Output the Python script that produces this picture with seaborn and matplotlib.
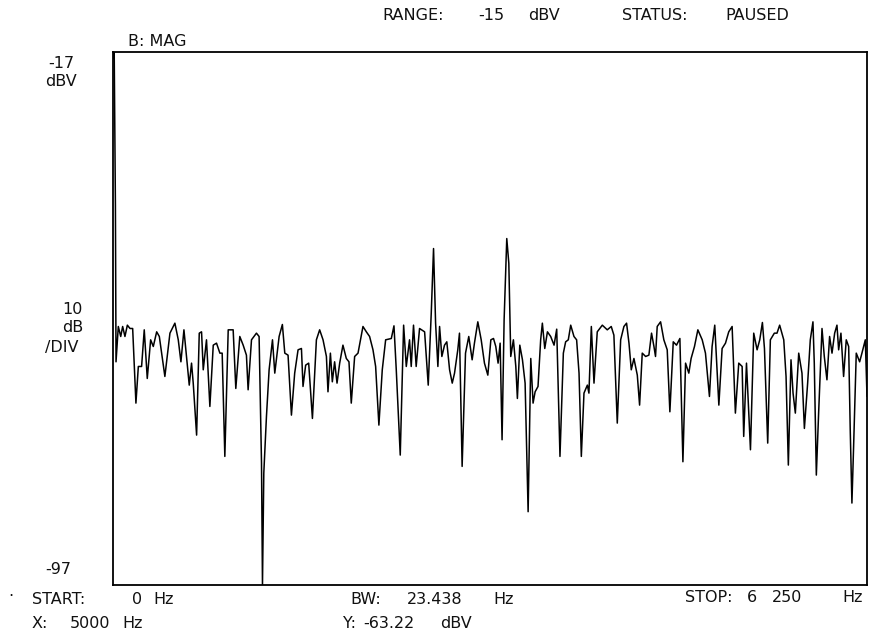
import matplotlib
matplotlib.use("Agg")
import matplotlib.pyplot as plt
import seaborn as sns
import pandas as pd

# Spectrum trace (frequency in Hz, level in dBV)
freq_hz = [0, 10, 20, 25, 44, 64, 80, 99, 119, 141, 163, 190, 210, 237, 259, 284, 312, 334, 362, 384,
           430, 472, 513, 541, 563, 588, 632, 651, 665, 693, 715, 734, 748, 775, 803, 831, 858, 886, 905, 927,
           955, 996, 1018, 1051, 1079, 1106, 1120, 1148, 1189, 1211, 1231, 1239, 1250, 1272, 1294, 1322, 1341, 1377, 1404, 1424,
           1451, 1479, 1506, 1534, 1562, 1575, 1597, 1622, 1653, 1686, 1713, 1741, 1769, 1782, 1802, 1818, 1837, 1857, 1879, 1906,
           1934, 1956, 1975, 2003, 2031, 2072, 2100, 2127, 2155, 2177, 2204, 2232, 2260, 2307, 2329, 2348, 2381, 2409, 2431, 2458,
           2472, 2491, 2513, 2541, 2583, 2613, 2638, 2657, 2674, 2693, 2707, 2726, 2748, 2767, 2790, 2812, 2831, 2858, 2872, 2894,
           2922, 2949, 2977, 2996, 3024, 3052, 3079, 3107, 3132, 3154, 3173, 3192, 3209, 3225, 3242, 3264, 3281, 3297, 3319, 3339,
           3352, 3372, 3394, 3416, 3441, 3463, 3482, 3499, 3523, 3545, 3559, 3579, 3601, 3628, 3656, 3678, 3705, 3733, 3752, 3774,
           3794, 3821, 3843, 3863, 3882, 3904, 3932, 3945, 3965, 3987, 4014, 4056, 4097, 4130, 4152, 4180, 4208, 4235, 4257, 4277,
           4296, 4318, 4346, 4365, 4387, 4415, 4442, 4464, 4484, 4497, 4511, 4539, 4566, 4594, 4616, 4644, 4671, 4699, 4724, 4746,
           4773, 4792, 4820, 4848, 4884, 4911, 4944, 4966, 4988, 5022, 5049, 5077, 5104, 5132, 5159, 5187, 5215, 5228, 5251, 5284,
           5311, 5339, 5361, 5383, 5400, 5427, 5449, 5482, 5504, 5526, 5560, 5579, 5598, 5620, 5637, 5656, 5684, 5711, 5731, 5758,
           5780, 5802, 5813, 5830, 5849, 5877, 5896, 5918, 5940, 5960, 5982, 6001, 6015, 6034, 6056, 6078, 6098, 6111, 6125, 6139,
           6161, 6189, 6208, 6236, 6250]
level_dbv = [-18, -17, -40, -63.5, -58.2, -59.7, -58.2, -59.7, -58.0, -58.5, -58.5, -69.7, -64.2, -64.2, -58.7, -66.0, -60.2, -61.2, -59.0, -59.7,
             -65.7, -59.2, -57.7, -60.2, -63.5, -58.7, -67.0, -63.7, -66.7, -74.5, -59.2, -59.0, -64.7, -60.2, -70.2, -61.0, -60.7, -62.2, -62.2, -77.7,
             -58.7, -58.7, -67.5, -59.7, -61.0, -62.5, -67.7, -60.2, -59.2, -59.7, -78.7, -97.0, -80.2, -71.7, -64.7, -60.2, -65.2, -59.7, -57.9, -62.2,
             -62.5, -71.5, -65.2, -61.7, -61.5, -67.2, -64.0, -63.7, -72.0, -60.2, -58.7, -60.2, -62.7, -68.0, -62.2, -66.5, -63.5, -66.7, -63.7, -61.0,
             -63.0, -63.5, -69.7, -62.7, -62.2, -58.2, -59.0, -59.7, -61.7, -64.2, -73.0, -64.7, -60.2, -60.0, -58.1, -64.7, -77.5, -58.0, -64.2, -60.2,
             -64.2, -58.0, -64.2, -58.5, -59.0, -67.0, -56.2, -46.5, -57.7, -64.2, -58.2, -62.7, -61.0, -60.5, -64.7, -66.7, -65.2, -61.7, -59.2, -79.2,
             -62.2, -59.7, -63.2, -60.7, -57.5, -60.2, -63.7, -65.5, -60.2, -60.0, -61.2, -63.7, -60.7, -75.2, -57.2, -45.0, -48.7, -62.7, -60.2, -64.2,
             -69.0, -61.0, -63.2, -66.7, -86.0, -63.0, -69.7, -68.0, -67.2, -60.2, -57.7, -61.5, -59.0, -59.7, -61.0, -58.6, -77.7, -62.2, -60.5, -60.2,
             -58.0, -59.7, -60.2, -65.2, -77.7, -68.2, -67.0, -68.2, -58.2, -66.7, -59.0, -58.0, -58.7, -58.2, -59.5, -72.7, -60.2, -58.2, -57.7, -60.7,
             -64.7, -63.0, -65.5, -70.0, -62.2, -62.7, -62.5, -59.2, -61.2, -62.7, -58.2, -57.5, -60.2, -61.7, -71.0, -60.5, -61.0, -60.0, -78.5, -63.7,
             -65.2, -63.0, -61.2, -58.7, -60.2, -62.2, -68.7, -61.2, -58.0, -70.0, -61.5, -60.7, -59.0, -58.2, -71.2, -63.7, -64.2, -74.7, -63.7, -76.7,
             -59.2, -61.7, -60.2, -57.6, -61.5, -75.7, -60.2, -59.2, -59.2, -58.0, -60.2, -65.7, -79.0, -63.2, -68.2, -71.2, -62.2, -65.2, -73.5, -66.7,
             -60.2, -57.5, -63.7, -80.5, -71.2, -58.5, -62.7, -66.2, -59.7, -62.2, -59.2, -58.0, -61.7, -59.2, -65.7, -60.2, -61.2, -73.7, -84.7, -76.2,
             -62.2, -63.5, -62.2, -60.2, -68.7]

start_hz, stop_hz = 0, 6250
top_dbv, bottom_dbv = -17, -97

sns.set_theme(style="white")
plt.rcParams['font.family'] = ['DejaVu Sans']

W, H = 870, 636
fig = plt.figure(figsize=(W / 100, H / 100), dpi=100)
fig.patch.set_facecolor("white")
ax = fig.add_axes([113 / W, 1 - 585 / H, (867 - 113) / W, (585 - 52) / H])

df = pd.DataFrame({"freq": freq_hz, "level": level_dbv})
sns.lineplot(data=df, x="freq", y="level", ax=ax, color="black", linewidth=1.1,
             estimator=None, sort=False)
ax.set_xlim(start_hz, stop_hz)
ax.set_ylim(bottom_dbv, top_dbv)
ax.set_xticks([])
ax.set_yticks([])
ax.set_xlabel("")
ax.set_ylabel("")
ax.set_facecolor("white")
for s in ax.spines.values():
    s.set_color("black")
    s.set_linewidth(1.3)

FS = 11.5


def t(x, y, s, **kw):
    fig.text(x / W, 1 - y / H, s, ha="left", va="center", fontsize=FS, color="#111111", **kw)


# header
t(382, 16, "RANGE:")
t(478, 16, "-15")
t(528, 16, "dBV")
t(622, 16, "STATUS:")
t(725, 16, "PAUSED")
t(128, 41, "B: MAG")

# left scale labels
t(48, 64, "-17")
t(45, 82, "dBV")
t(62, 309, "10")
t(62, 327, "dB")
t(45, 347, "/DIV")
t(45, 569, "-97")

# footer
t(8, 597, "·")
t(32, 599, "START:")
t(132, 599, "0")
t(153, 599, "Hz")
t(350, 599, "BW:")
t(407, 599, "23.438")
t(493, 599, "Hz")
t(685, 598, "STOP:")
t(747, 598, "6")
t(772, 598, "250")
t(842, 598, "Hz")
t(32, 623, "X:")
t(70, 623, "5000")
t(122, 623, "Hz")
t(343, 623, "Y:")
t(363, 623, "-63.22")
t(440, 623, "dBV")

fig.savefig("out.png", dpi=100, facecolor="white")
